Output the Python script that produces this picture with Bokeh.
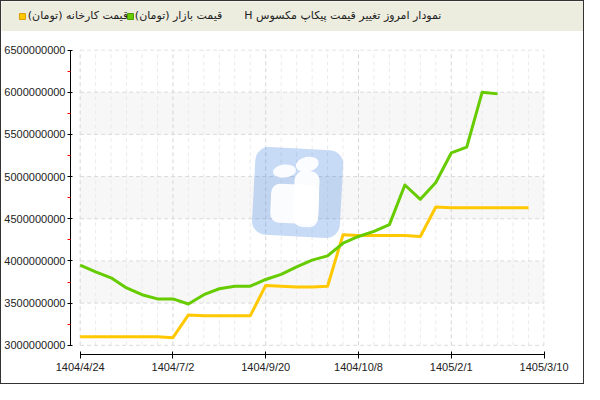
from bokeh.plotting import figure
from bokeh.layouts import column
from bokeh.models import Range1d, FixedTicker
from bokeh.core.properties import value
from bokeh.embed import file_html
from bokeh.resources import INLINE

# header texts
title_text = "نمودار امروز تغییر قیمت پیکاپ مکسوس H"
market_label = "قیمت بازار (تومان)"
factory_label = "قیمت کارخانه (تومان)"

# x axis: one point per step, labels every 6 steps
x_tick_pos = [0, 6, 12, 18, 24, 30]
x_tick_labels = ["1404/4/24", "1404/7/2", "1404/9/20", "1404/10/8", "1405/2/1", "1405/3/10"]

y_ticks = [3000000000, 3500000000, 4000000000, 4500000000,
           5000000000, 5500000000, 6000000000, 6500000000]
y_minor = [3250000000, 3750000000, 4250000000, 4750000000,
           5250000000, 5750000000, 6250000000]
band_bottoms = [3500000000, 4500000000, 5500000000]
band_tops = [4000000000, 5000000000, 6000000000]

# market price (green)
market = [3950000000, 3870000000, 3800000000, 3680000000, 3600000000, 3550000000,
          3550000000, 3490000000, 3600000000, 3670000000, 3700000000, 3700000000,
          3780000000, 3840000000, 3930000000, 4010000000, 4060000000, 4210000000,
          4290000000, 4350000000, 4430000000, 4900000000, 4730000000, 4930000000,
          5280000000, 5350000000, 6000000000, 5980000000]

# factory price (yellow)
factory = [3100000000, 3100000000, 3100000000, 3100000000, 3100000000, 3100000000,
           3090000000, 3360000000, 3350000000, 3350000000, 3350000000, 3350000000,
           3710000000, 3700000000, 3690000000, 3690000000, 3700000000, 4310000000,
           4300000000, 4300000000, 4300000000, 4300000000, 4290000000, 4640000000,
           4630000000, 4630000000, 4630000000, 4630000000, 4630000000, 4630000000]

GREEN = "#66cc00"
YELLOW = "#ffc800"
BEIGE = "#ececdf"
W = 582


def rtl(s):
    # right-to-left embedding so that "H" and the brackets sit where Persian puts them
    return "\u202b" + s + "\u202c"


# ---- header strip ----
hdr = figure(width=W, height=30, x_range=Range1d(1, 599), y_range=Range1d(31, 1),
             x_axis_location=None, y_axis_location=None, toolbar_location=None,
             output_backend="svg", min_border=0, outline_line_color=None,
             background_fill_color=BEIGE, border_fill_color=BEIGE)
hdr.frame_align = False
hdr.xgrid.visible = False
hdr.ygrid.visible = False

hdr_font = dict(text_font=value("DejaVu Sans"), text_font_size="11px",
                text_baseline="middle", text_color="#222222")
hdr.rect(x=[22.5], y=[16], width=6, height=6, width_units="screen", height_units="screen",
         fill_color=YELLOW, line_color="#d9a000")
hdr.text(x=[28], y=[15], text=[rtl(factory_label)], text_align="left", **hdr_font)
hdr.rect(x=[133.5], y=[16], width=6, height=6, width_units="screen", height_units="screen",
         fill_color=GREEN, line_color="#4a9a00")
hdr.text(x=[138], y=[15], text=[rtl(market_label)], text_align="left", **hdr_font)
hdr.text(x=[453], y=[15], text=[rtl(title_text)], text_align="right", **hdr_font)

# ---- main chart ----
p = figure(width=W, height=352,
           x_range=Range1d(-0.625, 30.03), y_range=Range1d(2891000000, 6506000000),
           toolbar_location=None, output_backend="svg",
           min_border_left=68, min_border_right=39, min_border_top=18, min_border_bottom=29,
           outline_line_color=None, background_fill_color="white", border_fill_color="white")
p.frame_align = False
p.extra_x_ranges = {"px": Range1d(70, 560.5)}
p.extra_y_ranges = {"px": Range1d(370, 50)}
p.xgrid.visible = False
p.ygrid.visible = False

# alternating bands
p.quad(left=x_tick_pos[0], right=x_tick_pos[-1], bottom=band_bottoms, top=band_tops,
       fill_color="#f7f7f7", line_color=None)

# grid lines
minor_x = [i for i in range(x_tick_pos[0], x_tick_pos[-1] + 1) if i not in x_tick_pos]
p.segment(x0=minor_x, x1=minor_x, y0=y_ticks[0], y1=y_ticks[-1],
          line_color="#ebebeb", line_dash="4 3", line_width=1)
p.segment(x0=x_tick_pos, x1=x_tick_pos, y0=y_ticks[0], y1=y_ticks[-1],
          line_color="#d6d6d6", line_dash="4 3", line_width=1)
p.segment(x0=x_tick_pos[0], x1=x_tick_pos[-1], y0=y_ticks, y1=y_ticks,
          line_color="#dadada", line_dash="4 3", line_width=1)

# watermark logo
p.rect(x=[305], y=[200], width=88, height=88, width_units="screen", height_units="screen",
       angle=-0.055, fill_color="#3b7ddd", fill_alpha=0.28, line_color=None,
       border_radius=14, x_range_name="px", y_range_name="px")
p.rect(x=[302], y=[212], width=48, height=39, width_units="screen", height_units="screen",
       angle=-0.04, fill_color="white", fill_alpha=0.92, line_color=None,
       border_radius=9, x_range_name="px", y_range_name="px")
p.rect(x=[314], y=[207], width=25, height=56, width_units="screen", height_units="screen",
       angle=-0.04, fill_color="white", fill_alpha=0.92, line_color=None,
       border_radius=9, x_range_name="px", y_range_name="px")
p.ellipse(x=[291.5, 315], y=[177.5, 170.5], width=[23, 23], height=[13, 15],
          width_units="screen", height_units="screen", angle=[0.1, 0.2],
          fill_color="white", fill_alpha=0.92, line_color=None,
          x_range_name="px", y_range_name="px")

# series
p.line(x=list(range(len(factory))), y=factory, line_color=YELLOW, line_width=3, line_join="round")
p.line(x=list(range(len(market))), y=market, line_color=GREEN, line_width=3, line_join="round")

# axes
p.xaxis.ticker = FixedTicker(ticks=x_tick_pos, minor_ticks=[])
p.xaxis.major_label_overrides = dict(zip(x_tick_pos, x_tick_labels))
p.xaxis.bounds = (x_tick_pos[0], x_tick_pos[-1])
p.xaxis.major_tick_in = 3
p.xaxis.major_tick_out = 4

p.yaxis.ticker = FixedTicker(ticks=y_ticks, minor_ticks=y_minor)
p.yaxis.major_label_overrides = {v: str(v) for v in y_ticks}
p.yaxis.bounds = (y_ticks[0], y_ticks[-1])
p.yaxis.major_tick_in = 2
p.yaxis.major_tick_out = 3
p.yaxis.minor_tick_in = 0
p.yaxis.minor_tick_out = 3
p.yaxis.minor_tick_line_color = "red"

for ax in (p.xaxis, p.yaxis):
    ax.axis_line_color = "black"
    ax.major_tick_line_color = "black"
    ax.major_label_text_font = "Liberation Sans"
    ax.major_label_text_font_size = "11px"
    ax.major_label_text_color = "#222222"
    ax.major_label_standoff = 2

layout = column(hdr, p, styles={"border": "1px solid #333333"})

open("out.html", "w").write(file_html(layout, INLINE))
